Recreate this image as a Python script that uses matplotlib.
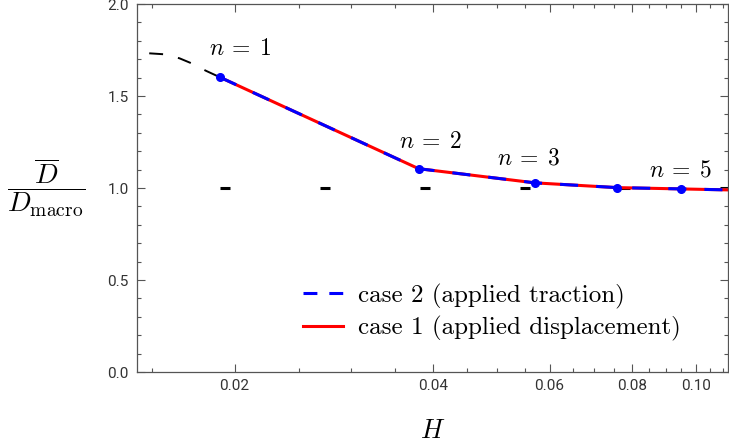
import numpy as np
import matplotlib.pyplot as plt
from matplotlib.lines import Line2D
from matplotlib.ticker import FixedLocator, FixedFormatter, MultipleLocator, NullFormatter

plt.rcParams['mathtext.fontset'] = 'cm'
plt.rcParams['lines.scale_dashes'] = False

# data
H = [0.019, 0.038, 0.057, 0.076, 0.095, 0.114]
D_case1 = [1.602, 1.105, 1.028, 1.002, 0.995, 0.989]
D_case2 = [1.602, 1.105, 1.028, 1.002, 0.995, 0.989]
H_ext = [0.01485, 0.0156, 0.0165, 0.0172, 0.0181, 0.019]
D_ext = [1.732, 1.727, 1.705, 1.678, 1.637, 1.602]
H_ref = [0.019, 0.13]
D_ref = [1.0, 1.0]
n_labels = [r'$n\:=\:1$', r'$n\:=\:2$', r'$n\:=\:3$', r'$n\:=\:5$']
xticks = [0.02, 0.04, 0.06, 0.08, 0.10]
xtick_labels = ['0.02', '0.04', '0.06', '0.08', '0.10']

fig = plt.figure(figsize=(7.29, 4.48), dpi=100)
ax = fig.add_axes([137 / 729, 1 - 372 / 448, 591 / 729, 368 / 448])

ax.plot(H_ref, D_ref, color='black', lw=2.2, ls=(0, (7.2, 64.8)), zorder=1)
ax.plot(H_ext, D_ext, color='black', lw=1.4, ls=(0, (10, 11)), zorder=1)
ax.plot(H, D_case1, color='#ff0000', lw=2.2, zorder=2)
ax.plot(H, D_case2, color='#0000ff', lw=2.2, ls=(0, (13, 13)), zorder=3)
ax.plot(H[:5], D_case2[:5], 'o', color='#0000ff', ms=5.5, zorder=4)

lab_pos = [(0.0204, 1.76), (0.0396, 1.255), (0.0557, 1.168), (0.0947, 1.098)]
for (lx, ly), t in zip(lab_pos, n_labels):
    ax.text(lx, ly, t, fontsize=17, ha='center', va='center')

ax.set_xscale('log')
ax.set_xlim(0.01423, 0.1118)
ax.set_ylim(0, 2.0)

ax.xaxis.set_major_locator(FixedLocator(xticks))
ax.xaxis.set_major_formatter(FixedFormatter(xtick_labels))
ax.xaxis.set_minor_locator(FixedLocator(np.arange(0.015, 0.115, 0.005)))
ax.xaxis.set_minor_formatter(NullFormatter())
ax.yaxis.set_major_locator(MultipleLocator(0.5))
ax.yaxis.set_minor_locator(MultipleLocator(0.1))
ax.yaxis.set_major_formatter(plt.FormatStrFormatter('%.1f'))

for s in ax.spines.values():
    s.set_color('#555555')
    s.set_linewidth(0.9)
ax.tick_params(which='both', direction='in', top=True, right=True,
               colors='#555555', labelcolor='#333333', labelsize=11,
               width=0.8)
ax.tick_params(which='major', length=6)
ax.tick_params(which='minor', length=3)
ax.tick_params(axis='x', pad=5)
ax.tick_params(axis='y', pad=6)
for lbl in ax.get_xticklabels() + ax.get_yticklabels():
    lbl.set_family('Roboto')

ax.set_xlabel('$H$', fontsize=19, labelpad=18)
ax.set_ylabel(r'$\dfrac{\overline{D}}{D_{\mathrm{macro}}}$', fontsize=20,
              rotation=0, labelpad=44, va='center')

handles = [Line2D([], [], color='#0000ff', lw=2.2, ls=(0, (10, 8.6))),
           Line2D([], [], color='#ff0000', lw=2.2)]
labels = ['case 2 (applied traction)', 'case 1 (applied displacement)']
ax.legend(handles, labels, loc='upper left',
          bbox_to_anchor=(0.281, 0.24), frameon=False,
          prop={'family': 'cmr10', 'size': 18}, handlelength=1.6,
          handletextpad=0.6, labelspacing=0.3, borderaxespad=0,
          borderpad=0)

fig.savefig('out.png', dpi=100)
